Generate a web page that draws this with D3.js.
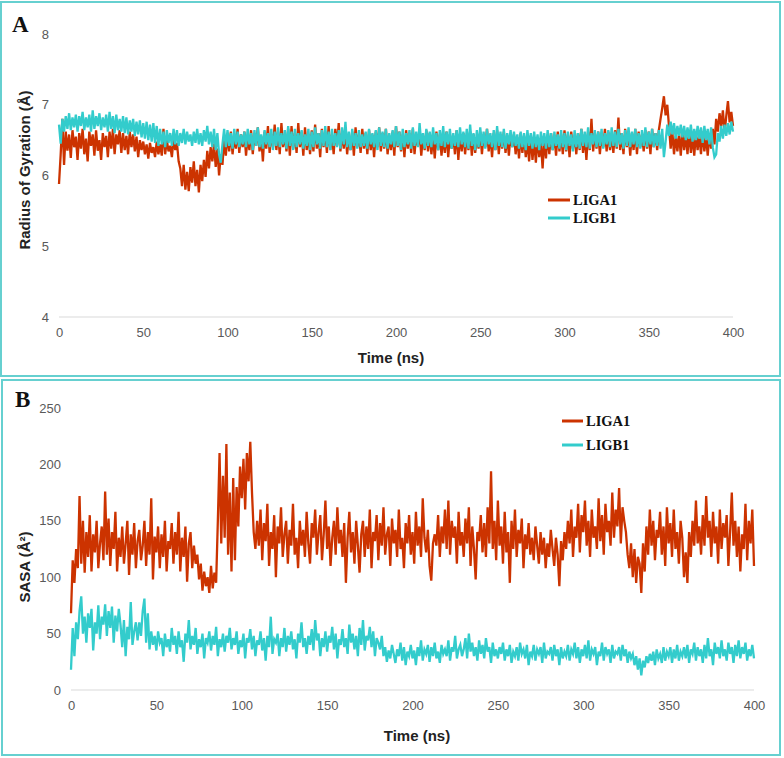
<!DOCTYPE html>
<html><head><meta charset="utf-8">
<script src="https://cdn.jsdelivr.net/npm/d3@7"></script>
<style>body{margin:0;background:#fff}svg{display:block}</style>
</head><body>
<svg id="c" width="784" height="758"></svg>
<script>
// time step of the series (ns)
const timeStep = 1;
const xTicks = [0,50,100,150,200,250,300,350,400];
const rgTicks = [4,5,6,7,8];
const sasaTicks = [0,50,100,150,200,250];
const seriesNames = ["LIGA1","LIGB1"];
const seriesColors = ["#cc3300","#33cccc"];

// Panel A: Radius of Gyration (Å), one value per ns 0..400
const ligA1_rg = [
5.88,6.30,6.80,6.15,6.62,6.35,6.58,6.25,6.64,6.40,
6.55,6.22,6.60,6.38,6.66,6.30,6.52,6.20,6.62,6.42,
6.58,6.28,6.64,6.35,6.50,6.22,6.60,6.40,6.56,6.26,
6.62,6.38,6.66,6.30,6.58,6.44,6.64,6.32,6.60,6.36,
6.56,6.30,6.62,6.40,6.58,6.34,6.55,6.26,6.50,6.36,
6.48,6.30,6.44,6.24,6.46,6.32,6.40,6.26,6.48,6.30,
6.44,6.28,6.66,6.30,6.50,6.34,6.42,6.26,6.52,6.36,
6.46,6.20,6.10,5.85,6.15,5.80,6.05,5.78,6.12,5.90,
6.20,5.85,6.08,5.76,6.15,5.92,6.22,5.98,6.35,6.10,
6.40,6.20,6.45,6.12,6.38,6.00,6.30,6.15,6.50,6.28,
6.58,6.34,6.62,6.30,6.55,6.38,6.66,6.32,6.58,6.40,
6.62,6.28,6.56,6.36,6.64,6.30,6.60,6.42,6.68,6.34,
6.56,6.20,6.62,6.38,6.70,6.32,6.58,6.40,6.72,6.36,
6.62,6.30,6.74,6.40,6.58,6.34,6.66,6.28,6.70,6.38,
6.60,6.32,6.74,6.40,6.62,6.28,6.68,6.36,6.58,6.30,
6.64,6.34,6.72,6.38,6.60,6.26,6.66,6.40,6.62,6.32,
6.70,6.36,6.58,6.30,6.66,6.42,6.74,6.34,6.60,6.38,
6.64,6.30,6.56,6.36,6.62,6.28,6.68,6.40,6.58,6.32,
6.66,6.38,6.60,6.30,6.64,6.36,6.58,6.26,6.62,6.40,
6.68,6.34,6.60,6.38,6.66,6.30,6.56,6.36,6.62,6.28,
6.70,6.40,6.62,6.34,6.58,6.26,6.64,6.38,6.60,6.32,
6.66,6.30,6.58,6.42,6.62,6.28,6.56,6.36,6.64,6.34,
6.60,6.30,6.56,6.24,6.62,6.36,6.58,6.28,6.54,6.32,
6.62,6.26,6.58,6.38,6.56,6.30,6.64,6.22,6.58,6.34,
6.60,6.30,6.56,6.36,6.62,6.28,6.58,6.32,6.54,6.38,
6.62,6.30,6.58,6.40,6.66,6.34,6.56,6.26,6.60,6.36,
6.64,6.30,6.58,6.38,6.62,6.32,6.56,6.28,6.60,6.40,
6.58,6.30,6.54,6.24,6.60,6.32,6.56,6.26,6.50,6.20,
6.56,6.22,6.50,6.18,6.54,6.26,6.48,6.10,6.52,6.24,
6.58,6.30,6.60,6.36,6.56,6.28,6.62,6.34,6.58,6.30,
6.64,6.34,6.58,6.26,6.62,6.38,6.56,6.30,6.60,6.36,
6.66,6.32,6.58,6.22,6.62,6.36,6.80,6.34,6.60,6.38,
6.62,6.30,6.58,6.40,6.66,6.34,6.62,6.36,6.58,6.32,
6.64,6.38,6.82,6.36,6.60,6.30,6.66,6.40,6.62,6.28,
6.60,6.36,6.66,6.30,6.62,6.40,6.58,6.34,6.64,6.38,
6.62,6.30,6.66,6.40,6.60,6.36,6.64,6.80,6.95,7.12,
6.85,7.00,6.70,6.38,6.62,6.30,6.56,6.34,6.60,6.28,
6.62,6.36,6.58,6.30,6.64,6.32,6.56,6.28,6.60,6.36,
6.58,6.30,6.62,6.34,6.56,6.28,6.60,6.38,6.66,6.44,
6.80,6.62,6.88,6.70,6.92,6.60,6.84,7.05,6.75,6.90,
6.70];
const ligB1_rg = [
6.72,6.45,6.80,6.62,6.84,6.66,6.88,6.64,6.82,6.68,
6.86,6.62,6.84,6.70,6.90,6.64,6.82,6.68,6.86,6.62,
6.92,6.66,6.84,6.70,6.88,6.64,6.82,6.68,6.86,6.62,
6.90,6.66,6.84,6.60,6.86,6.64,6.80,6.62,6.84,6.60,
6.82,6.58,6.78,6.62,6.80,6.56,6.76,6.58,6.78,6.54,
6.74,6.52,6.76,6.50,6.72,6.48,6.74,6.46,6.70,6.42,
6.66,6.44,6.62,6.40,6.64,6.46,6.60,6.42,6.66,6.44,
6.64,6.42,6.60,6.46,6.66,6.44,6.62,6.48,6.58,6.42,
6.62,6.46,6.66,6.44,6.60,6.42,6.64,6.48,6.70,6.44,
6.62,6.40,6.66,6.36,6.60,6.30,6.18,6.44,6.66,6.40,
6.64,6.42,6.60,6.38,6.66,6.44,6.62,6.40,6.58,6.44,
6.62,6.40,6.66,6.44,6.60,6.36,6.64,6.42,6.68,6.40,
6.58,6.38,6.64,6.44,6.60,6.40,6.66,6.36,6.62,6.42,
6.68,6.40,6.60,6.44,6.64,6.38,6.70,6.42,6.62,6.36,
6.66,6.40,6.60,6.44,6.64,6.38,6.58,6.42,6.66,6.36,
6.62,6.40,6.68,6.44,6.60,6.38,6.64,6.42,6.70,6.40,
6.62,6.36,6.66,6.42,6.60,6.40,6.64,6.38,6.68,6.44,
6.76,6.40,6.62,6.36,6.66,6.42,6.60,6.38,6.64,6.40,
6.58,6.42,6.62,6.38,6.66,6.44,6.60,6.40,6.64,6.36,
6.68,6.42,6.62,6.40,6.66,6.38,6.60,6.44,6.64,6.40,
6.70,6.42,6.62,6.36,6.66,6.40,6.60,6.44,6.64,6.38,
6.68,6.42,6.62,6.40,6.74,6.44,6.60,6.38,6.66,6.42,
6.62,6.40,6.68,6.44,6.60,6.36,6.64,6.42,6.70,6.40,
6.62,6.44,6.66,6.38,6.60,6.42,6.64,6.40,6.68,6.44,
6.62,6.40,6.66,6.38,6.72,6.42,6.60,6.36,6.64,6.40,
6.68,6.42,6.62,6.38,6.66,6.44,6.60,6.40,6.64,6.36,
6.70,6.42,6.62,6.40,6.66,6.38,6.60,6.44,6.64,6.40,
6.62,6.42,6.58,6.38,6.62,6.40,6.60,6.36,6.64,6.42,
6.60,6.38,6.62,6.40,6.58,6.36,6.62,6.42,6.60,6.38,
6.64,6.40,6.60,6.36,6.62,6.42,6.58,6.38,6.64,6.40,
6.60,6.36,6.62,6.42,6.58,6.34,6.64,6.40,6.60,6.38,
6.66,6.42,6.62,6.40,6.68,6.38,6.60,6.44,6.64,6.40,
6.62,6.42,6.66,6.38,6.60,6.44,6.64,6.40,6.68,6.42,
6.62,6.40,6.66,6.44,6.60,6.38,6.64,6.42,6.68,6.40,
6.62,6.44,6.66,6.40,6.60,6.38,6.64,6.42,6.68,6.40,
6.62,6.44,6.66,6.40,6.60,6.42,6.64,6.38,6.66,6.26,
6.48,6.72,6.56,6.76,6.58,6.74,6.52,6.70,6.56,6.72,
6.54,6.70,6.50,6.68,6.52,6.72,6.48,6.66,6.50,6.70,
6.52,6.68,6.46,6.70,6.50,6.66,6.44,6.68,6.40,6.26,
6.30,6.60,6.48,6.70,6.52,6.72,6.56,6.74,6.58,6.76,
6.62];

// Panel B: SASA (Å²), one value per ns 0..400
const ligA1_sasa = [
68,115,95,125,108,172,112,150,104,140,
118,155,105,138,122,150,108,130,145,115,
176,120,152,110,140,125,158,105,135,118,
145,112,130,150,102,138,120,148,108,132,
142,115,128,150,110,140,120,170,98,136,
122,145,108,138,118,150,105,132,125,148,
112,140,120,158,105,135,118,145,96,130,
140,108,128,112,120,98,112,88,105,92,
100,86,110,90,104,95,150,210,130,190,
135,218,120,175,105,188,115,180,145,198,
170,205,160,210,185,220,175,140,125,150,
128,160,115,148,132,165,110,140,125,155,
100,145,130,162,118,138,150,112,142,128,
165,120,135,108,150,128,142,118,158,130,
112,148,135,160,120,140,155,115,138,168,
125,145,110,135,150,120,162,130,142,118,
148,95,135,158,122,140,112,150,128,104,
138,150,118,145,125,160,108,140,132,155,
115,148,128,162,120,138,145,110,152,130,
142,118,160,125,135,108,148,130,155,120,
140,112,158,128,145,118,170,135,122,142,
110,97,130,138,128,155,118,145,130,160,
125,168,120,150,135,145,112,158,128,140,
118,152,130,162,110,145,125,98,140,132,
155,122,148,118,162,130,194,125,150,115,
168,128,145,112,158,122,140,95,150,125,
160,118,142,130,152,108,138,125,148,120,
135,115,145,128,112,140,120,135,108,130,
118,142,125,110,135,120,92,132,115,140,
125,150,130,160,118,145,135,165,122,155,
140,168,128,150,118,160,135,145,125,170,
132,155,120,165,140,150,128,175,135,160,
145,179,130,162,150,140,120,108,130,100,
125,95,118,112,86,130,105,145,120,160,
128,150,115,142,135,158,120,145,110,162,
130,148,118,160,125,140,112,150,135,100,
122,95,140,118,150,128,168,130,145,120,
155,128,172,135,150,118,158,130,145,112,
160,125,148,135,155,110,140,175,128,150,
118,145,105,138,125,165,115,150,130,160,
110];
const ligB1_sasa = [
18,55,30,60,45,70,83,50,65,42,
68,55,72,35,60,50,75,45,65,58,
76,48,70,55,74,42,66,52,72,58,
38,62,30,56,45,78,40,52,60,44,
60,48,70,81,42,68,36,52,40,48,
35,52,42,46,30,50,38,45,34,55,
40,48,32,52,38,44,25,50,42,62,
36,48,40,55,32,45,38,50,28,46,
42,52,35,48,40,56,30,45,38,50,
34,48,42,55,36,46,40,52,32,44,
38,50,28,46,42,54,36,48,30,44,
40,52,35,46,26,48,38,65,32,45,
42,50,30,46,38,55,34,48,40,52,
36,45,28,50,42,60,38,46,32,48,
40,54,35,62,44,50,30,46,38,52,
34,48,42,56,36,50,28,45,40,54,
38,46,32,58,42,50,36,48,30,55,
40,62,35,48,44,56,38,52,30,46,
42,36,48,30,38,25,35,28,40,32,
24,36,30,42,26,38,22,34,30,40,
28,35,22,38,30,44,26,36,32,40,
25,38,30,42,28,34,24,40,32,36,
30,44,26,38,34,48,28,36,40,30,
36,46,28,50,34,42,30,38,26,44,
32,40,28,46,34,38,24,42,30,36,
28,38,32,42,26,36,30,40,24,34,
30,38,26,42,32,36,28,40,22,34,
30,40,26,36,32,38,24,42,28,34,
32,38,26,40,30,36,22,38,28,34,
30,40,26,36,32,42,28,38,24,36,
30,40,28,44,26,36,32,38,22,34,
30,42,26,38,32,36,24,40,28,34,
32,38,26,40,30,36,24,34,28,32,
22,30,18,28,13,26,20,30,24,32,
26,34,22,36,28,32,24,38,26,34,
30,38,24,36,28,40,26,34,30,38,
28,40,24,36,32,42,26,38,30,36,
24,40,28,46,30,36,22,42,32,38,
28,44,30,36,26,42,32,38,24,40,
30,44,28,38,32,42,26,36,30,40,
28];

const svg = d3.select("#c");
const border = "#66d0d0";

function panel(cfg){
  const g = svg.append("g");
  g.append("rect").attr("x",cfg.box[0]).attr("y",cfg.box[1]).attr("width",cfg.box[2]).attr("height",cfg.box[3])
    .attr("fill","none").attr("stroke",border).attr("stroke-width",2);
  const x = d3.scaleLinear().domain([0,400]).range(cfg.xr);
  const y = d3.scaleLinear().domain(cfg.yd).range(cfg.yr);
  // baseline
  g.append("line").attr("x1",cfg.xr[0]).attr("x2",cfg.xr[1]).attr("y1",cfg.yr[0]).attr("y2",cfg.yr[0])
    .attr("stroke","#d9d9d9").attr("stroke-width",1);
  // x axis labels
  const xa = g.append("g").attr("transform",`translate(0,${cfg.yr[0]})`)
    .call(d3.axisBottom(x).tickValues(xTicks).tickSize(0).tickPadding(cfg.xpad).tickFormat(d3.format("d")));
  xa.select(".domain").remove();
  xa.selectAll("text").attr("font-family","Liberation Sans, Arial, sans-serif").attr("font-size",13).attr("fill","#595959");
  const ya = g.append("g").attr("transform",`translate(${cfg.yAxisX},0)`)
    .call(d3.axisLeft(y).tickValues(cfg.ticks).tickSize(0).tickPadding(0).tickFormat(d3.format("d")));
  ya.select(".domain").remove();
  ya.selectAll("text").attr("font-family","Liberation Sans, Arial, sans-serif").attr("font-size",13).attr("fill","#595959");
  // titles
  g.append("text").attr("x",cfg.xtitle[0]).attr("y",cfg.xtitle[1]).attr("text-anchor","middle")
    .attr("font-family","Liberation Sans, Arial, sans-serif").attr("font-weight","bold").attr("font-size",15).attr("fill","#222")
    .text("Time (ns)");
  g.append("text").attr("transform",`translate(${cfg.ytitle[0]},${cfg.ytitle[1]}) rotate(-90)`).attr("text-anchor","middle")
    .attr("font-family","Liberation Sans, Arial, sans-serif").attr("font-weight","bold").attr("font-size",15).attr("fill","#222")
    .text(cfg.ylabel);
  g.append("text").attr("x",cfg.letter[0]).attr("y",cfg.letter[1])
    .attr("font-family","Liberation Serif, Times New Roman, serif").attr("font-weight","bold").attr("font-size",23).attr("fill","#111")
    .text(cfg.letterText);
  // lines
  const line = d3.line().x((d,i)=>x(i*timeStep)).y(d=>y(d));
  cfg.series.forEach((s,k)=>{
    g.append("path").datum(s).attr("d",line).attr("fill","none")
      .attr("stroke",seriesColors[k]).attr("stroke-width",2.3).attr("stroke-linejoin","miter");
  });
  // legend
  seriesNames.forEach((n,k)=>{
    const ly = cfg.legend[1] + k*cfg.legend[3];
    g.append("line").attr("x1",cfg.legend[0]).attr("x2",cfg.legend[0]+cfg.legend[2]).attr("y1",ly).attr("y2",ly)
      .attr("stroke",seriesColors[k]).attr("stroke-width",3);
    g.append("text").attr("x",cfg.legend[0]+cfg.legend[2]+3).attr("y",ly+5)
      .attr("font-family","Liberation Serif, Times New Roman, serif").attr("font-weight","bold").attr("font-size",14.5).attr("fill","#111")
      .text(n);
  });
}

panel({box:[1,2,779,374], xr:[59,733], yd:[4,8], yr:[317,34], ticks:rgTicks, yAxisX:49, xpad:11,
  xtitle:[391,363], ytitle:[30,170], ylabel:"Radius of Gyration (Å)", letter:[12,32], letterText:"A",
  series:[ligA1_rg, ligB1_rg], legend:[548,200,22,18]});
panel({box:[2,380,778,375], xr:[71,754], yd:[0,250], yr:[690,408], ticks:sasaTicks, yAxisX:61, xpad:11,
  xtitle:[417,741], ytitle:[30,567], ylabel:"SASA (Å²)", letter:[15,407], letterText:"B",
  series:[ligA1_sasa, ligB1_sasa], legend:[562,421,21,24]});
</script>
</body></html>
